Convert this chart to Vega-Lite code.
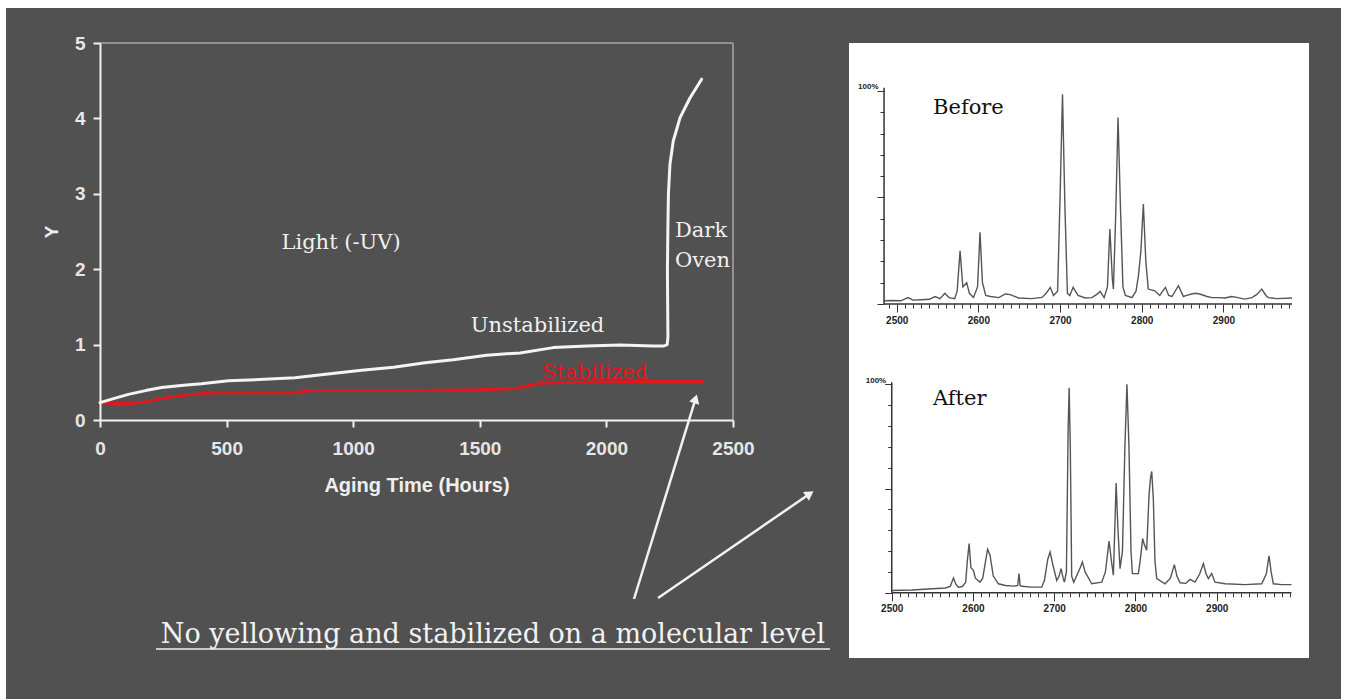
{
  "$schema": "https://vega.github.io/schema/vega-lite/v6.json",
  "autosize": {"type": "pad"},
  "padding": {"left": 6, "top": 7, "right": 6, "bottom": 2},
  "background": "white",
  "bounds": "flush",
  "spacing": 116,
  "config": {"view": {"stroke": null}},
  "datasets": {
    "unstab": [
      {"t": 0, "y": 0.23, "i": 0}, {"t": 50, "y": 0.28, "i": 1}, {"t": 112, "y": 0.34, "i": 2},
      {"t": 180, "y": 0.39, "i": 3}, {"t": 243, "y": 0.43, "i": 4}, {"t": 330, "y": 0.46, "i": 5},
      {"t": 400, "y": 0.48, "i": 6}, {"t": 507, "y": 0.52, "i": 7}, {"t": 650, "y": 0.54, "i": 8},
      {"t": 770, "y": 0.56, "i": 9}, {"t": 900, "y": 0.61, "i": 10}, {"t": 1033, "y": 0.66, "i": 11},
      {"t": 1160, "y": 0.7, "i": 12}, {"t": 1284, "y": 0.76, "i": 13}, {"t": 1395, "y": 0.8, "i": 14},
      {"t": 1527, "y": 0.86, "i": 15}, {"t": 1659, "y": 0.89, "i": 16}, {"t": 1790, "y": 0.96, "i": 17},
      {"t": 1922, "y": 0.98, "i": 18}, {"t": 2054, "y": 0.995, "i": 19}, {"t": 2185, "y": 0.98, "i": 20},
      {"t": 2225, "y": 0.98, "i": 21}, {"t": 2240, "y": 1.0, "i": 22}, {"t": 2243, "y": 1.1, "i": 23},
      {"t": 2242, "y": 1.5, "i": 24}, {"t": 2241, "y": 2.0, "i": 25}, {"t": 2243, "y": 2.6, "i": 26},
      {"t": 2245, "y": 3.0, "i": 27}, {"t": 2251, "y": 3.39, "i": 28}, {"t": 2264, "y": 3.7, "i": 29},
      {"t": 2291, "y": 4.01, "i": 30}, {"t": 2330, "y": 4.27, "i": 31}, {"t": 2376, "y": 4.52, "i": 32}
    ],
    "stab": [
      {"t": 0, "y": 0.23}, {"t": 60, "y": 0.22}, {"t": 120, "y": 0.22}, {"t": 178, "y": 0.24},
      {"t": 250, "y": 0.29}, {"t": 309, "y": 0.32}, {"t": 441, "y": 0.36}, {"t": 600, "y": 0.36},
      {"t": 770, "y": 0.36}, {"t": 836, "y": 0.39}, {"t": 1050, "y": 0.39}, {"t": 1284, "y": 0.39},
      {"t": 1500, "y": 0.4}, {"t": 1650, "y": 0.42}, {"t": 1700, "y": 0.46}, {"t": 1750, "y": 0.49},
      {"t": 1900, "y": 0.5}, {"t": 2100, "y": 0.51}, {"t": 2380, "y": 0.51}
    ],
    "before": [
      {"mz": 2484.5, "int": 1.5}, {"mz": 2495, "int": 1.6}, {"mz": 2505, "int": 1.5}, {"mz": 2514, "int": 3},
      {"mz": 2520, "int": 1.8}, {"mz": 2530, "int": 2}, {"mz": 2540, "int": 2.2}, {"mz": 2547, "int": 3.5},
      {"mz": 2553, "int": 2.5}, {"mz": 2559, "int": 5}, {"mz": 2564, "int": 3}, {"mz": 2571, "int": 2.5},
      {"mz": 2574, "int": 6}, {"mz": 2577.6, "int": 25}, {"mz": 2581, "int": 8}, {"mz": 2585.7, "int": 10},
      {"mz": 2589, "int": 5}, {"mz": 2594, "int": 3}, {"mz": 2599, "int": 8}, {"mz": 2602, "int": 33.6},
      {"mz": 2605, "int": 10}, {"mz": 2609, "int": 4}, {"mz": 2615, "int": 3.5}, {"mz": 2625, "int": 3},
      {"mz": 2633, "int": 4.7}, {"mz": 2639, "int": 4.4}, {"mz": 2649, "int": 2.8}, {"mz": 2665, "int": 2.5},
      {"mz": 2678, "int": 3.1}, {"mz": 2683, "int": 5}, {"mz": 2688, "int": 7.8}, {"mz": 2692, "int": 4},
      {"mz": 2697, "int": 6}, {"mz": 2700, "int": 50}, {"mz": 2703, "int": 98.4}, {"mz": 2706, "int": 45},
      {"mz": 2709, "int": 5}, {"mz": 2712, "int": 4}, {"mz": 2716, "int": 7.8}, {"mz": 2722, "int": 4},
      {"mz": 2731, "int": 2.8}, {"mz": 2739, "int": 3}, {"mz": 2745, "int": 4.5}, {"mz": 2749, "int": 5.9},
      {"mz": 2754, "int": 3}, {"mz": 2758, "int": 8}, {"mz": 2761, "int": 35.2}, {"mz": 2764, "int": 12},
      {"mz": 2765.3, "int": 7}, {"mz": 2768, "int": 40}, {"mz": 2771, "int": 87.5}, {"mz": 2774, "int": 45},
      {"mz": 2777, "int": 8}, {"mz": 2780, "int": 4}, {"mz": 2788, "int": 3}, {"mz": 2793, "int": 6},
      {"mz": 2796, "int": 13.3}, {"mz": 2799, "int": 25}, {"mz": 2802, "int": 46.9}, {"mz": 2805, "int": 20},
      {"mz": 2808, "int": 7}, {"mz": 2816, "int": 6.2}, {"mz": 2822, "int": 4}, {"mz": 2829, "int": 7.8},
      {"mz": 2833, "int": 4}, {"mz": 2837, "int": 3.5}, {"mz": 2845, "int": 8.6}, {"mz": 2851, "int": 3.5},
      {"mz": 2855, "int": 4}, {"mz": 2861, "int": 4.7}, {"mz": 2866, "int": 5}, {"mz": 2871, "int": 4.7},
      {"mz": 2880, "int": 3.5}, {"mz": 2886, "int": 3}, {"mz": 2895, "int": 3}, {"mz": 2902, "int": 2.8},
      {"mz": 2910, "int": 3.5}, {"mz": 2918, "int": 3}, {"mz": 2926, "int": 2.3}, {"mz": 2935, "int": 3},
      {"mz": 2941, "int": 4.5}, {"mz": 2947, "int": 7}, {"mz": 2952, "int": 4}, {"mz": 2955, "int": 3},
      {"mz": 2965, "int": 2.5}, {"mz": 2984, "int": 2.8}
    ],
    "after": [
      {"mz": 2500, "int": 1.1}, {"mz": 2525, "int": 1.3}, {"mz": 2545, "int": 1.8}, {"mz": 2566, "int": 2.3},
      {"mz": 2572, "int": 3}, {"mz": 2576, "int": 7.1}, {"mz": 2579, "int": 4}, {"mz": 2582, "int": 2.7},
      {"mz": 2587, "int": 3}, {"mz": 2591, "int": 5}, {"mz": 2593, "int": 15}, {"mz": 2595.2, "int": 23.6},
      {"mz": 2597.5, "int": 12}, {"mz": 2600.5, "int": 10.8}, {"mz": 2603, "int": 7}, {"mz": 2608.7, "int": 5.1},
      {"mz": 2612, "int": 7}, {"mz": 2615, "int": 14}, {"mz": 2618, "int": 20.9}, {"mz": 2621, "int": 18},
      {"mz": 2625, "int": 8}, {"mz": 2631.3, "int": 4.3}, {"mz": 2640, "int": 3.5}, {"mz": 2650, "int": 3.2},
      {"mz": 2655, "int": 3.5}, {"mz": 2656.7, "int": 9.2}, {"mz": 2658, "int": 3.5}, {"mz": 2660, "int": 3.1},
      {"mz": 2672, "int": 2.7}, {"mz": 2684.6, "int": 2.7}, {"mz": 2688, "int": 6}, {"mz": 2692, "int": 16},
      {"mz": 2694.9, "int": 19.6}, {"mz": 2698, "int": 14}, {"mz": 2703.1, "int": 5.9}, {"mz": 2706, "int": 8},
      {"mz": 2708.4, "int": 11.6}, {"mz": 2711, "int": 7}, {"mz": 2712.5, "int": 5.1}, {"mz": 2715, "int": 10},
      {"mz": 2717.2, "int": 80}, {"mz": 2718.4, "int": 98.4}, {"mz": 2719.8, "int": 70}, {"mz": 2721.5, "int": 8},
      {"mz": 2724, "int": 5}, {"mz": 2729.7, "int": 10}, {"mz": 2732, "int": 12}, {"mz": 2734.7, "int": 14.8},
      {"mz": 2738, "int": 10}, {"mz": 2746.2, "int": 4.3}, {"mz": 2758.5, "int": 5.1}, {"mz": 2763, "int": 10},
      {"mz": 2767.5, "int": 24.8}, {"mz": 2770.5, "int": 15}, {"mz": 2772.8, "int": 8.4}, {"mz": 2774.5, "int": 30},
      {"mz": 2776.2, "int": 52.6}, {"mz": 2778.5, "int": 30}, {"mz": 2781, "int": 11.6}, {"mz": 2784, "int": 20},
      {"mz": 2787, "int": 70}, {"mz": 2789.5, "int": 100}, {"mz": 2792, "int": 70}, {"mz": 2794.5, "int": 20},
      {"mz": 2796.2, "int": 9.2}, {"mz": 2803.6, "int": 9.2}, {"mz": 2806, "int": 16}, {"mz": 2808.9, "int": 26},
      {"mz": 2811, "int": 23}, {"mz": 2813.8, "int": 20.4}, {"mz": 2816.7, "int": 46.9}, {"mz": 2818.5, "int": 55},
      {"mz": 2820, "int": 58.2}, {"mz": 2822, "int": 45}, {"mz": 2824, "int": 15}, {"mz": 2826.2, "int": 6.8},
      {"mz": 2836.4, "int": 4.3}, {"mz": 2843, "int": 7}, {"mz": 2847.9, "int": 13.5}, {"mz": 2851, "int": 8},
      {"mz": 2854.9, "int": 4.8}, {"mz": 2862, "int": 4.5}, {"mz": 2867.2, "int": 6.4}, {"mz": 2873.3, "int": 5.1},
      {"mz": 2879, "int": 9}, {"mz": 2883.6, "int": 14}, {"mz": 2887, "int": 9}, {"mz": 2889.7, "int": 6.8},
      {"mz": 2893.8, "int": 9.2}, {"mz": 2897.9, "int": 5.1}, {"mz": 2910.3, "int": 4.3}, {"mz": 2934.9, "int": 3.9},
      {"mz": 2955.4, "int": 4.3}, {"mz": 2961, "int": 9}, {"mz": 2964.4, "int": 17.7}, {"mz": 2967, "int": 10},
      {"mz": 2969.7, "int": 4.3}, {"mz": 2980, "int": 3.9}, {"mz": 2992, "int": 3.9}
    ]
  },
  "hconcat": [
    {
      "width": 633,
      "height": 377,
      "layer": [
        {
          "data": {"values": [{}]},
          "mark": {"type": "rect", "color": "#515151"},
          "encoding": {
            "x": {"datum": -371.2, "type": "quantitative",
              "scale": {"domain": [0, 2500], "nice": false, "zero": false},
              "axis": {"title": "Aging Time (Hours)", "values": [0, 500, 1000, 1500, 2000, 2500], "tickCount": 100, "format": "d", "grid": false,
                "domainColor": "#f2f2f2", "domainWidth": 2, "tickColor": "#f2f2f2", "tickWidth": 2, "tickSize": 7,
                "labelFont": "Liberation Sans", "labelFontWeight": "bold", "labelFontSize": 19, "labelColor": "#e6e6e6",
                "labelPadding": 12, "labelFlush": false, "labelOverlap": false,
                "titleFont": "Liberation Sans", "titleFontWeight": "bold", "titleFontSize": 20, "titleColor": "#eeeeee",
                "titlePadding": 17, "zindex": 1}},
            "x2": {"datum": 4901.3},
            "y": {"datum": 5.4642, "type": "quantitative",
              "scale": {"domain": [0, 5], "nice": false, "zero": false},
              "axis": {"title": "Y", "values": [0, 1, 2, 3, 4, 5], "tickCount": 100, "format": "d", "grid": false,
                "domainColor": "#f2f2f2", "domainWidth": 2, "tickColor": "#f2f2f2", "tickWidth": 2, "tickSize": 7,
                "labelFont": "Liberation Sans", "labelFontWeight": "bold", "labelFontSize": 19, "labelColor": "#e6e6e6",
                "labelPadding": 8, "labelFlush": false, "labelOverlap": false,
                "titleFont": "Liberation Sans", "titleFontWeight": "bold", "titleFontSize": 19, "titleColor": "#eeeeee",
                "titlePadding": 13, "zindex": 1}},
            "y2": {"datum": -3.7003}
          }
        },
        {
          "data": {"values": [{}]},
          "mark": {"type": "rule", "color": "#a8a8a8", "strokeWidth": 1.5},
          "encoding": {"x": {"datum": 0}, "x2": {"datum": 2500}, "y": {"datum": 5}}
        },
        {
          "data": {"values": [{}]},
          "mark": {"type": "rule", "color": "#a8a8a8", "strokeWidth": 1.5},
          "encoding": {"x": {"datum": 2500}, "y": {"datum": 0}, "y2": {"datum": 5}}
        },
        {
          "data": {"name": "stab"},
          "mark": {"type": "line", "color": "#e3161e", "strokeWidth": 3, "strokeCap": "round", "strokeJoin": "round"},
          "encoding": {
            "x": {"field": "t", "type": "quantitative", "title": "Aging Time (Hours)"},
            "y": {"field": "y", "type": "quantitative", "title": "Y"}
          }
        },
        {
          "data": {"name": "unstab"},
          "mark": {"type": "line", "color": "#f4f4f4", "strokeWidth": 3, "strokeCap": "round", "strokeJoin": "round"},
          "encoding": {
            "x": {"field": "t", "type": "quantitative", "title": "Aging Time (Hours)"},
            "y": {"field": "y", "type": "quantitative", "title": "Y"},
            "order": {"field": "i", "type": "quantitative"}
          }
        },
        {
          "data": {"values": [{}]},
          "mark": {"type": "text", "text": "Light (-UV)", "font": "DejaVu Serif", "fontSize": 21, "color": "#f0f0f0", "align": "center", "baseline": "middle"},
          "encoding": {"x": {"datum": 952}, "y": {"datum": 2.35}}
        },
        {
          "data": {"values": [{}]},
          "mark": {"type": "text", "text": "Unstabilized", "font": "DejaVu Serif", "fontSize": 21, "color": "#f0f0f0", "align": "center", "baseline": "middle"},
          "encoding": {"x": {"datum": 1728}, "y": {"datum": 1.247}}
        },
        {
          "data": {"values": [{}]},
          "mark": {"type": "text", "text": "Stabilized", "font": "DejaVu Serif", "fontSize": 21, "color": "#e3161e", "align": "center", "baseline": "middle"},
          "encoding": {"x": {"datum": 1955}, "y": {"datum": 0.627}}
        },
        {
          "data": {"values": [{}]},
          "mark": {"type": "text", "text": "Dark", "font": "DejaVu Serif", "fontSize": 21, "color": "#f0f0f0", "align": "left", "baseline": "middle"},
          "encoding": {"x": {"datum": 2271}, "y": {"datum": 2.51}}
        },
        {
          "data": {"values": [{}]},
          "mark": {"type": "text", "text": "Oven", "font": "DejaVu Serif", "fontSize": 21, "color": "#f0f0f0", "align": "left", "baseline": "middle"},
          "encoding": {"x": {"datum": 2271}, "y": {"datum": 2.11}}
        },
        {
          "data": {"values": [{}]},
          "mark": {"type": "rule", "color": "#f2f2f2", "strokeWidth": 2.5},
          "encoding": {"x": {"datum": 2109}, "y": {"datum": -2.374}, "x2": {"datum": 2352}, "y2": {"datum": 0.281}}
        },
        {
          "data": {"values": [{}]},
          "mark": {"type": "point", "shape": "triangle-up", "filled": true, "color": "#f2f2f2", "opacity": 1, "size": 110, "angle": 17.1},
          "encoding": {"x": {"datum": 2352}, "y": {"datum": 0.281}}
        },
        {
          "data": {"values": [{}]},
          "mark": {"type": "rule", "color": "#f2f2f2", "strokeWidth": 2.5},
          "encoding": {"x": {"datum": 2204}, "y": {"datum": -2.361}, "x2": {"datum": 2803}, "y2": {"datum": -0.979}}
        },
        {
          "data": {"values": [{}]},
          "mark": {"type": "point", "shape": "triangle-up", "filled": true, "color": "#f2f2f2", "opacity": 1, "size": 110, "angle": 55.6},
          "encoding": {"x": {"datum": 2803}, "y": {"datum": -0.979}}
        },
        {
          "data": {"values": [{}]},
          "mark": {"type": "text", "text": "No yellowing and stabilized on a molecular level", "font": "DejaVu Serif", "fontSize": 27, "color": "#f2f2f2", "align": "center", "baseline": "alphabetic"},
          "encoding": {"x": {"datum": 1552}, "y": {"datum": -2.958}}
        },
        {
          "data": {"values": [{}]},
          "mark": {"type": "rule", "color": "#f2f2f2", "strokeWidth": 1.5},
          "encoding": {"x": {"datum": 221}, "x2": {"datum": 2883}, "y": {"datum": -3.037}}
        }
      ]
    },
    {
      "vconcat": [
        {
          "width": 460,
          "height": 308,
          "view": {"fill": "white", "stroke": null},
          "layer": [
            {
              "data": {"name": "before"},
              "mark": {"type": "line", "color": "#555555", "strokeWidth": 1.4},
              "encoding": {
                "x": {"field": "mz", "type": "quantitative",
                  "scale": {"domain": [2441.6, 3004.8], "nice": false, "zero": false},
                  "axis": {"title": null, "grid": false, "domain": false, "offset": -47, "format": "d", "tickCount": 100,
                    "values": [2490, 2500, 2510, 2520, 2530, 2540, 2550, 2560, 2570, 2580, 2590, 2600, 2610, 2620, 2630, 2640, 2650, 2660, 2670, 2680, 2690, 2700, 2710, 2720, 2730, 2740, 2750, 2760, 2770, 2780, 2790, 2800, 2810, 2820, 2830, 2840, 2850, 2860, 2870, 2880, 2890, 2900, 2910, 2920, 2930, 2940, 2950, 2960, 2970, 2980],
                    "labelExpr": "datum.value % 100 === 0 ? datum.label : ''",
                    "tickColor": "#333333", "tickWidth": 1,
                    "tickSize": {"condition": {"test": "datum.value % 100 === 0", "value": 8}, "value": 4},
                    "labelFont": "Liberation Sans", "labelFontWeight": "bold", "labelFontSize": 10, "labelColor": "#222222",
                    "labelPadding": 3, "labelFlush": false, "labelOverlap": false}},
                "y": {"field": "int", "type": "quantitative",
                  "scale": {"domain": [-22.07, 122.5], "nice": false, "zero": false},
                  "axis": {"title": null, "grid": false, "domain": false, "offset": -35, "tickCount": 100,
                    "values": [0, 10, 20, 30, 40, 50, 60, 70, 80, 90, 100],
                    "labelExpr": "datum.value === 100 ? '100%' : ''",
                    "tickColor": "#333333", "tickWidth": 1,
                    "tickSize": {"condition": {"test": "datum.value % 50 === 0", "value": 7}, "value": 4},
                    "labelFont": "Liberation Sans", "labelFontWeight": "bold", "labelFontSize": 8, "labelColor": "#222222",
                    "labelAlign": "right", "labelBaseline": "bottom", "labelPadding": -1, "labelFlush": false, "labelOverlap": false}}
              }
            },
            {
              "data": {"values": [{}]},
              "mark": {"type": "rule", "color": "#333333", "strokeWidth": 1.5},
              "encoding": {"x": {"datum": 2484.5}, "x2": {"datum": 2984}, "y": {"datum": 0}}
            },
            {
              "data": {"values": [{}]},
              "mark": {"type": "rule", "color": "#333333", "strokeWidth": 1.5},
              "encoding": {"x": {"datum": 2484.5}, "y": {"datum": 0}, "y2": {"datum": 101.5}}
            },
            {
              "data": {"values": [{}]},
              "mark": {"type": "text", "text": "Before", "font": "DejaVu Serif", "fontSize": 21, "color": "#111111", "align": "left", "baseline": "middle"},
              "encoding": {"x": {"datum": 2544.5}, "y": {"datum": 92}}
            }
          ]
        },
        {
          "width": 460,
          "height": 307,
          "view": {"fill": "white", "stroke": null},
          "layer": [
            {
              "data": {"name": "after"},
              "mark": {"type": "line", "color": "#555555", "strokeWidth": 1.4},
              "encoding": {
                "x": {"field": "mz", "type": "quantitative",
                  "scale": {"domain": [2447.4, 3013.6], "nice": false, "zero": false},
                  "axis": {"title": null, "grid": false, "domain": false, "offset": -65.2, "format": "d", "tickCount": 100,
                    "values": [2500, 2510, 2520, 2530, 2540, 2550, 2560, 2570, 2580, 2590, 2600, 2610, 2620, 2630, 2640, 2650, 2660, 2670, 2680, 2690, 2700, 2710, 2720, 2730, 2740, 2750, 2760, 2770, 2780, 2790, 2800, 2810, 2820, 2830, 2840, 2850, 2860, 2870, 2880, 2890, 2900, 2910, 2920, 2930, 2940, 2950, 2960, 2970, 2980, 2990],
                    "labelExpr": "datum.value % 100 === 0 ? datum.label : ''",
                    "tickColor": "#333333", "tickWidth": 1,
                    "tickSize": {"condition": {"test": "datum.value % 100 === 0", "value": 8}, "value": 4},
                    "labelFont": "Liberation Sans", "labelFontWeight": "bold", "labelFontSize": 10, "labelColor": "#222222",
                    "labelPadding": 3, "labelFlush": false, "labelOverlap": false}},
                "y": {"field": "int", "type": "quantitative",
                  "scale": {"domain": [-31.3, 116], "nice": false, "zero": false},
                  "axis": {"title": null, "grid": false, "domain": false, "offset": -42.7, "tickCount": 100,
                    "values": [0, 10, 20, 30, 40, 50, 60, 70, 80, 90, 100],
                    "labelExpr": "datum.value === 100 ? '100%' : ''",
                    "tickColor": "#333333", "tickWidth": 1,
                    "tickSize": {"condition": {"test": "datum.value % 50 === 0", "value": 7}, "value": 4},
                    "labelFont": "Liberation Sans", "labelFontWeight": "bold", "labelFontSize": 8, "labelColor": "#222222",
                    "labelAlign": "right", "labelBaseline": "bottom", "labelPadding": -1, "labelFlush": false, "labelOverlap": false}}
              }
            },
            {
              "data": {"values": [{}]},
              "mark": {"type": "rule", "color": "#333333", "strokeWidth": 1.5},
              "encoding": {"x": {"datum": 2500}, "x2": {"datum": 2992}, "y": {"datum": 0}}
            },
            {
              "data": {"values": [{}]},
              "mark": {"type": "rule", "color": "#333333", "strokeWidth": 1.5},
              "encoding": {"x": {"datum": 2500}, "y": {"datum": 0}, "y2": {"datum": 101}}
            },
            {
              "data": {"values": [{}]},
              "mark": {"type": "text", "text": "After", "font": "DejaVu Serif", "fontSize": 21, "color": "#111111", "align": "left", "baseline": "middle"},
              "encoding": {"x": {"datum": 2550.8}, "y": {"datum": 93}}
            }
          ]
        }
      ],
      "spacing": 0,
      "bounds": "flush"
    }
  ]
}
